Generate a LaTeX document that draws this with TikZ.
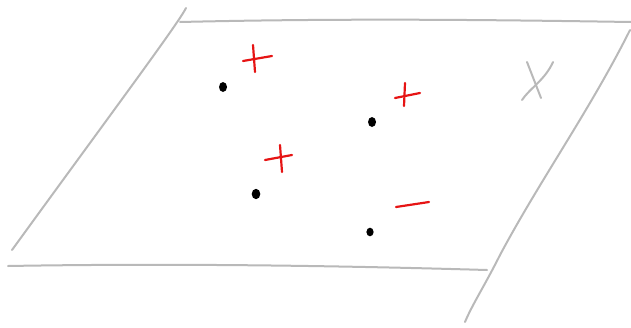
\documentclass[tikz,border=0pt]{standalone}
\begin{document}
\begin{tikzpicture}[x=1pt,y=-1pt,
  edge/.style={draw={rgb,255:red,185;green,185;blue,185},line width=2pt,line cap=round},
  sign/.style={draw={rgb,255:red,230;green,20;blue,20},line width=2.2pt,line cap=round},
  pt/.style={fill=black}]
\useasboundingbox (0,0) rectangle (631,327);
% plane edges
\draw[edge] (180,22) .. controls (350,18) and (500,20) .. (631,22);
\draw[edge] (186,8) .. controls (178,24) and (110,115) .. (12,250);
\draw[edge] (8,266) .. controls (180,263) and (350,266) .. (487,270);
\draw[edge] (630,30) .. controls (590,110) and (540,180) .. (500,255) .. controls (485,285) and (472,305) .. (465,322);
% X label
\draw[edge] (527,62) -- (541,98);
\draw[edge] (553,62) .. controls (545,80) and (530,88) .. (522,100);
% dots
\fill[pt] (223,87) ellipse (4 and 5);
\fill[pt] (372,122) ellipse (4 and 5);
\fill[pt] (256,194) ellipse (4.3 and 5.2);
\fill[pt] (370,232) ellipse (3.6 and 4.3);
% signs
\draw[sign] (243,61) -- (272,56);
\draw[sign] (253,45) -- (255,72);
\draw[sign] (395,98) -- (420,93);
\draw[sign] (405,83) -- (404,106);
\draw[sign] (265,160) -- (292,155);
\draw[sign] (280,145) -- (282,172);
\draw[sign] (396,207) -- (429,202);
\end{tikzpicture}
\end{document}
